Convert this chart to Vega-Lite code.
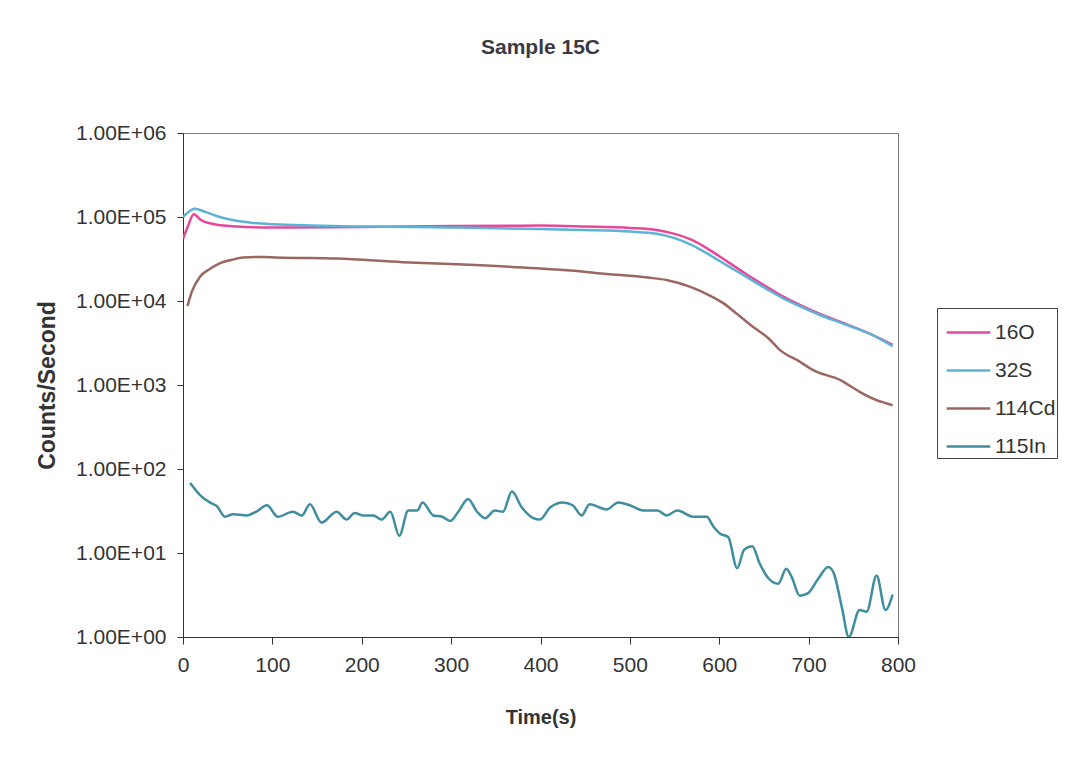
{
  "$schema": "https://vega.github.io/schema/vega-lite/v6.json",
  "width": 715,
  "height": 504,
  "autosize": "none",
  "padding": {"left": 183, "top": 133, "right": 174, "bottom": 120},
  "background": "white",
  "title": {"text": "Sample 15C", "offset": 64, "fontSize": 21, "font": "Liberation Sans", "fontWeight": "bold", "color": "#3a3a44", "anchor": "middle"},
  "config": {
    "view": {"stroke": "#777", "strokeWidth": 1},
    "axis": {"labelFont": "Liberation Sans", "titleFont": "Liberation Sans", "labelColor": "#333", "titleColor": "#333", "domainColor": "#333", "tickColor": "#333", "grid": false, "tickSize": 6, "labelFontSize": 21, "titleFontSize": 20, "titleFontWeight": "bold"}
  },
  "data": {"values": [
    {"t": 0, "v": 55000, "s": "16O"}, {"t": 5, "v": 75000, "s": "16O"}, {"t": 12, "v": 108000, "s": "16O"}, {"t": 20, "v": 92000, "s": "16O"}, {"t": 35, "v": 82000, "s": "16O"}, {"t": 60, "v": 77000, "s": "16O"}, {"t": 100, "v": 75000, "s": "16O"}, {"t": 200, "v": 76000, "s": "16O"}, {"t": 300, "v": 78000, "s": "16O"}, {"t": 400, "v": 79000, "s": "16O"}, {"t": 450, "v": 77000, "s": "16O"}, {"t": 500, "v": 74000, "s": "16O"}, {"t": 530, "v": 70000, "s": "16O"}, {"t": 550, "v": 63000, "s": "16O"}, {"t": 570, "v": 53000, "s": "16O"}, {"t": 590, "v": 40000, "s": "16O"}, {"t": 610, "v": 29000, "s": "16O"}, {"t": 630, "v": 21000, "s": "16O"}, {"t": 650, "v": 15500, "s": "16O"}, {"t": 670, "v": 11500, "s": "16O"}, {"t": 690, "v": 9000, "s": "16O"}, {"t": 710, "v": 7200, "s": "16O"}, {"t": 740, "v": 5400, "s": "16O"}, {"t": 770, "v": 4000, "s": "16O"}, {"t": 794, "v": 3000, "s": "16O"},
    {"t": 0, "v": 100000, "s": "32S"}, {"t": 5, "v": 112000, "s": "32S"}, {"t": 13, "v": 125000, "s": "32S"}, {"t": 25, "v": 115000, "s": "32S"}, {"t": 41, "v": 100000, "s": "32S"}, {"t": 60, "v": 90000, "s": "32S"}, {"t": 78, "v": 85000, "s": "32S"}, {"t": 100, "v": 82000, "s": "32S"}, {"t": 200, "v": 77000, "s": "32S"}, {"t": 300, "v": 75000, "s": "32S"}, {"t": 400, "v": 72000, "s": "32S"}, {"t": 450, "v": 70000, "s": "32S"}, {"t": 500, "v": 67000, "s": "32S"}, {"t": 530, "v": 63000, "s": "32S"}, {"t": 550, "v": 56000, "s": "32S"}, {"t": 570, "v": 46000, "s": "32S"}, {"t": 590, "v": 35000, "s": "32S"}, {"t": 610, "v": 26000, "s": "32S"}, {"t": 630, "v": 19500, "s": "32S"}, {"t": 650, "v": 14500, "s": "32S"}, {"t": 670, "v": 11000, "s": "32S"}, {"t": 690, "v": 8700, "s": "32S"}, {"t": 710, "v": 7000, "s": "32S"}, {"t": 740, "v": 5300, "s": "32S"}, {"t": 770, "v": 4000, "s": "32S"}, {"t": 794, "v": 2900, "s": "32S"},
    {"t": 5, "v": 8700, "s": "114Cd"}, {"t": 10, "v": 13000, "s": "114Cd"}, {"t": 19, "v": 19500, "s": "114Cd"}, {"t": 30, "v": 24000, "s": "114Cd"}, {"t": 41, "v": 28000, "s": "114Cd"}, {"t": 55, "v": 31000, "s": "114Cd"}, {"t": 67, "v": 33000, "s": "114Cd"}, {"t": 90, "v": 33500, "s": "114Cd"}, {"t": 105, "v": 33000, "s": "114Cd"}, {"t": 172, "v": 32000, "s": "114Cd"}, {"t": 246, "v": 29000, "s": "114Cd"}, {"t": 321, "v": 27000, "s": "114Cd"}, {"t": 396, "v": 24500, "s": "114Cd"}, {"t": 433, "v": 23000, "s": "114Cd"}, {"t": 474, "v": 21000, "s": "114Cd"}, {"t": 520, "v": 19000, "s": "114Cd"}, {"t": 541, "v": 17800, "s": "114Cd"}, {"t": 567, "v": 14800, "s": "114Cd"}, {"t": 590, "v": 11500, "s": "114Cd"}, {"t": 604, "v": 9500, "s": "114Cd"}, {"t": 620, "v": 7000, "s": "114Cd"}, {"t": 638, "v": 4900, "s": "114Cd"}, {"t": 655, "v": 3600, "s": "114Cd"}, {"t": 668, "v": 2600, "s": "114Cd"}, {"t": 690, "v": 1900, "s": "114Cd"}, {"t": 705, "v": 1500, "s": "114Cd"}, {"t": 735, "v": 1150, "s": "114Cd"}, {"t": 757, "v": 830, "s": "114Cd"}, {"t": 776, "v": 660, "s": "114Cd"}, {"t": 794, "v": 575, "s": "114Cd"},
    {"t": 8, "v": 68, "s": "115In"}, {"t": 19, "v": 49, "s": "115In"}, {"t": 30, "v": 40, "s": "115In"}, {"t": 38, "v": 36, "s": "115In"}, {"t": 47, "v": 27, "s": "115In"}, {"t": 56, "v": 29, "s": "115In"}, {"t": 71, "v": 28, "s": "115In"}, {"t": 82, "v": 31, "s": "115In"}, {"t": 94, "v": 37, "s": "115In"}, {"t": 106, "v": 27, "s": "115In"}, {"t": 123, "v": 31, "s": "115In"}, {"t": 133, "v": 28, "s": "115In"}, {"t": 142, "v": 38, "s": "115In"}, {"t": 155, "v": 23, "s": "115In"}, {"t": 172, "v": 31, "s": "115In"}, {"t": 183, "v": 25, "s": "115In"}, {"t": 192, "v": 30, "s": "115In"}, {"t": 201, "v": 28, "s": "115In"}, {"t": 213, "v": 28, "s": "115In"}, {"t": 222, "v": 25, "s": "115In"}, {"t": 232, "v": 31, "s": "115In"}, {"t": 242, "v": 16, "s": "115In"}, {"t": 252, "v": 32, "s": "115In"}, {"t": 262, "v": 32, "s": "115In"}, {"t": 268, "v": 40, "s": "115In"}, {"t": 280, "v": 28, "s": "115In"}, {"t": 290, "v": 27, "s": "115In"}, {"t": 299, "v": 24, "s": "115In"}, {"t": 308, "v": 31, "s": "115In"}, {"t": 319, "v": 44, "s": "115In"}, {"t": 329, "v": 31, "s": "115In"}, {"t": 338, "v": 26, "s": "115In"}, {"t": 349, "v": 32, "s": "115In"}, {"t": 358, "v": 31, "s": "115In"}, {"t": 368, "v": 54, "s": "115In"}, {"t": 379, "v": 35, "s": "115In"}, {"t": 392, "v": 26, "s": "115In"}, {"t": 399, "v": 25, "s": "115In"}, {"t": 411, "v": 35, "s": "115In"}, {"t": 425, "v": 40, "s": "115In"}, {"t": 436, "v": 37, "s": "115In"}, {"t": 446, "v": 28, "s": "115In"}, {"t": 455, "v": 38, "s": "115In"}, {"t": 474, "v": 33, "s": "115In"}, {"t": 487, "v": 40, "s": "115In"}, {"t": 500, "v": 37, "s": "115In"}, {"t": 515, "v": 32, "s": "115In"}, {"t": 531, "v": 32, "s": "115In"}, {"t": 541, "v": 28, "s": "115In"}, {"t": 553, "v": 32, "s": "115In"}, {"t": 571, "v": 27, "s": "115In"}, {"t": 586, "v": 27, "s": "115In"}, {"t": 593, "v": 21, "s": "115In"}, {"t": 601, "v": 17, "s": "115In"}, {"t": 610, "v": 15.5, "s": "115In"}, {"t": 620, "v": 6.6, "s": "115In"}, {"t": 628, "v": 11, "s": "115In"}, {"t": 637, "v": 12, "s": "115In"}, {"t": 645, "v": 7.6, "s": "115In"}, {"t": 655, "v": 5.0, "s": "115In"}, {"t": 666, "v": 4.3, "s": "115In"}, {"t": 675, "v": 6.5, "s": "115In"}, {"t": 681, "v": 5.2, "s": "115In"}, {"t": 690, "v": 3.1, "s": "115In"}, {"t": 699, "v": 3.3, "s": "115In"}, {"t": 710, "v": 4.8, "s": "115In"}, {"t": 722, "v": 6.8, "s": "115In"}, {"t": 728, "v": 5.8, "s": "115In"}, {"t": 737, "v": 2.3, "s": "115In"}, {"t": 745, "v": 1.0, "s": "115In"}, {"t": 757, "v": 2.1, "s": "115In"}, {"t": 765, "v": 2.0, "s": "115In"}, {"t": 776, "v": 5.4, "s": "115In"}, {"t": 786, "v": 2.1, "s": "115In"}, {"t": 794, "v": 3.2, "s": "115In"}
  ]},
  "mark": {"type": "line", "interpolate": "monotone", "strokeWidth": 2.5, "clip": true},
  "encoding": {
    "x": {"field": "t", "type": "quantitative", "scale": {"domain": [0, 800], "nice": false},
      "axis": {"title": "Time(s)", "values": [0, 100, 200, 300, 400, 500, 600, 700, 800], "labelPadding": 10, "titlePadding": 32, "tickSize": 7, "labelFlush": false}},
    "y": {"field": "v", "type": "quantitative", "scale": {"type": "log", "domain": [1, 1000000], "nice": false},
      "axis": {"title": "Counts/Second", "titleFontSize": 23, "values": [1, 10, 100, 1000, 10000, 100000, 1000000], "labelExpr": "'1.00E+0' + round(log(datum.value) / LN10)", "labelPadding": 11, "titlePadding": 16}},
    "color": {"field": "s", "type": "nominal", "sort": ["16O", "32S", "114Cd", "115In"],
      "scale": {"domain": ["16O", "32S", "114Cd", "115In"], "range": ["#e6489b", "#5cb3d6", "#9a6860", "#3f8ea0"]},
      "legend": {"title": null, "orient": "none", "legendX": 754, "legendY": 175, "symbolType": "stroke", "symbolSize": 1900, "symbolStrokeWidth": 2.5, "symbolOffset": 7, "labelFont": "Liberation Sans", "labelFontSize": 21, "labelColor": "#333", "strokeColor": "#444", "fillColor": "white", "padding": 1, "rowPadding": 4, "labelOffset": 3}}
  }
}
